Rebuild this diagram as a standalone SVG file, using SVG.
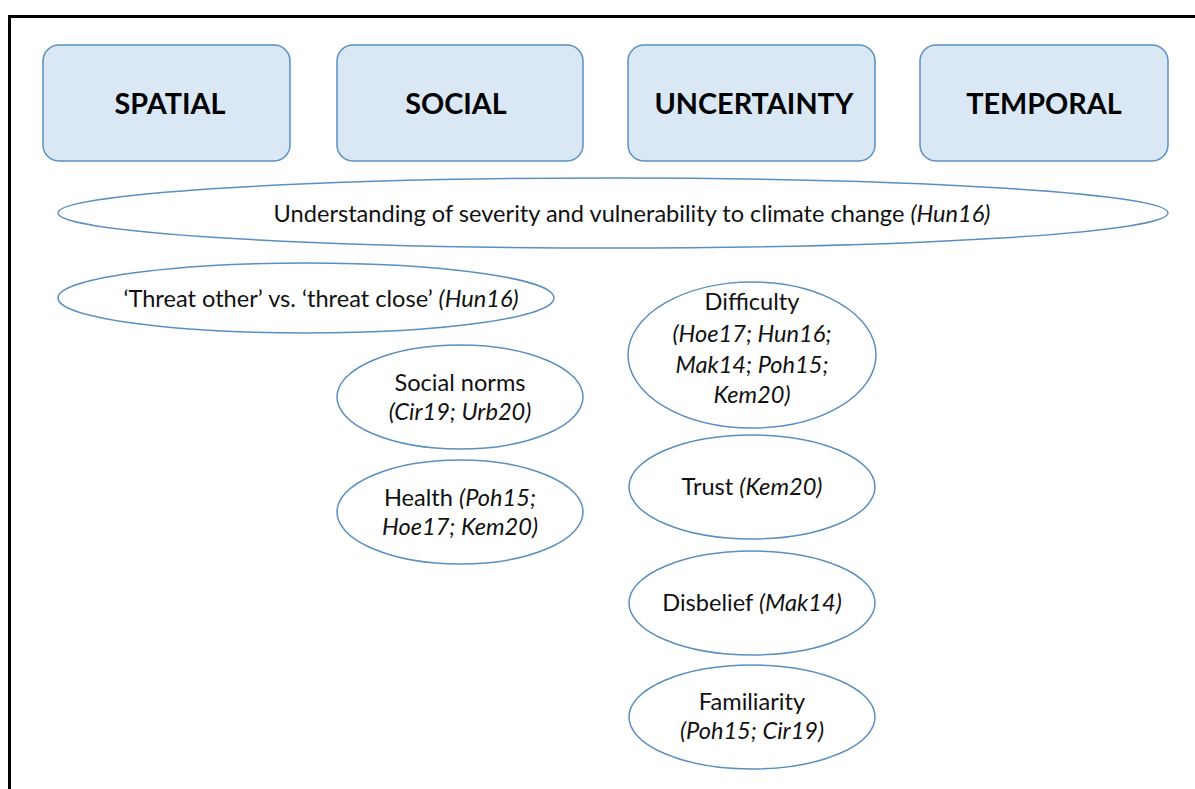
<svg xmlns="http://www.w3.org/2000/svg" width="1195" height="789" viewBox="0 0 1195 789">
<style>
.box{fill:#dae8f6;stroke:#5a8fc0;stroke-width:1.5}
.ell{fill:#fff;stroke:#5a8fc0;stroke-width:1.5}
.hd{font-family:Lato,"Open Sans","Liberation Sans",sans-serif;font-weight:bold;font-size:28.8px;fill:#000;text-anchor:middle}
.tx{font-family:Lato,"Open Sans","Liberation Sans",sans-serif;font-size:23.6px;fill:#111;text-anchor:middle}
.it{font-style:italic}
</style>
<rect width="1195" height="789" fill="#fff"/>
<path d="M9.5 789 V16.5 H1195" fill="none" stroke="#000" stroke-width="3"/>
<g id="spatial"><rect class="box" x="43" y="45" width="247" height="116" rx="16"/><text class="hd" x="170" y="114">SPATIAL</text></g>
<g id="social"><rect class="box" x="337" y="45" width="246" height="116" rx="16"/><text class="hd" x="456" y="114">SOCIAL</text></g>
<g id="uncertainty"><rect class="box" x="628" y="45" width="247" height="116" rx="16"/><text class="hd" x="754" y="114">UNCERTAINTY</text></g>
<g id="temporal"><rect class="box" x="920" y="45" width="248" height="116" rx="16"/><text class="hd" x="1044" y="114">TEMPORAL</text></g>
<g id="understanding"><ellipse class="ell" cx="613" cy="213" rx="555" ry="35"/><text class="tx" x="632" y="222">Understanding of severity and vulnerability to climate change <tspan class="it">(Hun16)</tspan></text></g>
<g id="threat"><ellipse class="ell" cx="306" cy="298" rx="248" ry="35"/><text class="tx" x="321" y="307">‘Threat other’ vs. ‘threat close’ <tspan class="it">(Hun16)</tspan></text></g>
<g id="difficulty"><ellipse class="ell" cx="752" cy="355" rx="124" ry="73"/><text class="tx" x="752" y="310">Difficulty</text><text class="tx it" x="752" y="342">(Hoe17; Hun16;</text><text class="tx it" x="752" y="373">Mak14; Poh15;</text><text class="tx it" x="752" y="403">Kem20)</text></g>
<g id="socialnorms"><ellipse class="ell" cx="460" cy="397" rx="123" ry="52"/><text class="tx" x="460" y="391">Social norms</text><text class="tx it" x="460" y="420">(Cir19; Urb20)</text></g>
<g id="health"><ellipse class="ell" cx="460" cy="512" rx="123" ry="52"/><text class="tx" x="460" y="506">Health <tspan class="it">(Poh15;</tspan></text><text class="tx it" x="460" y="535">Hoe17; Kem20)</text></g>
<g id="trust"><ellipse class="ell" cx="752" cy="487" rx="123" ry="52"/><text class="tx" x="752" y="495">Trust <tspan class="it">(Kem20)</tspan></text></g>
<g id="disbelief"><ellipse class="ell" cx="752" cy="603" rx="123" ry="52"/><text class="tx" x="752" y="611">Disbelief <tspan class="it">(Mak14)</tspan></text></g>
<g id="familiarity"><ellipse class="ell" cx="752" cy="717" rx="123" ry="52"/><text class="tx" x="752" y="710">Familiarity</text><text class="tx it" x="752" y="739">(Poh15; Cir19)</text></g>
<g id="connectors"></g>
</svg>
